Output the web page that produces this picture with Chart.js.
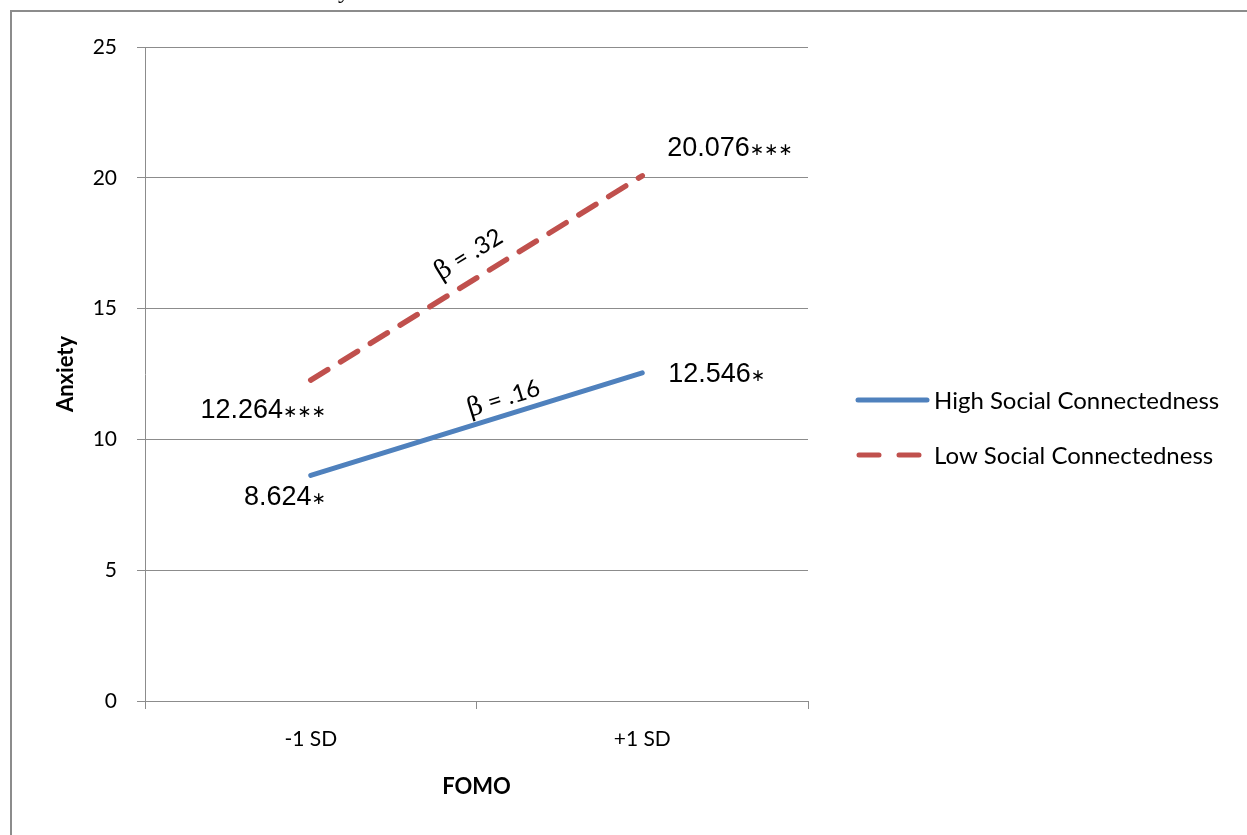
<!DOCTYPE html>
<html>
<head>
<meta charset="utf-8">
<script src="https://cdn.jsdelivr.net/npm/chart.js@4.4.1/dist/chart.umd.min.js"></script>
<style>
html,body{margin:0;padding:0;background:#fff}
#wrap{width:1247px;height:835px;position:relative}
</style>
</head>
<body>
<div id="wrap"><canvas id="chart" width="1247" height="835"></canvas></div>
<script>
const categories=["-1 SD","+1 SD"];
const highSC=[8.624,12.546];
const lowSC=[12.264,20.076];
const highStars=["∗","∗"];
const lowStars=["∗∗∗","∗∗∗"];
const betas=[".16",".32"];
const seriesNames=["High Social Connectedness","Low Social Connectedness"];
const blue="#4F81BD", red="#C0504D", grid="#8c8c8c";
const sans="Lato, 'Open Sans', sans-serif";

// point labels, betas, legend, frame
const extras={
  id:"extras",
  beforeDraw(c){
    const ctx=c.ctx;
    ctx.save();
    ctx.strokeStyle=grid;ctx.lineWidth=2;
    ctx.beginPath();ctx.moveTo(11,835);ctx.lineTo(11,11);ctx.lineTo(1247,11);ctx.stroke();
    ctx.fillStyle="#000";ctx.font="24px 'Liberation Serif', serif";ctx.textBaseline="alphabetic";
    ctx.fillText("y",338,-2);
    ctx.restore();
  },
  afterDatasetsDraw(c){
    const ctx=c.ctx, x=c.scales.x, y=c.scales.y;
    const label=(txt,stars,px,py,align)=>{
      ctx.font="27px 'Liberation Sans', Arial, sans-serif";
      const w1=ctx.measureText(txt).width;
      ctx.font="17px 'DejaVu Sans', sans-serif";
      const w2=ctx.measureText(stars).width;
      let left=align==="right"?px-w1-w2:px;
      ctx.textAlign="left";ctx.textBaseline="middle";
      ctx.font="27px 'Liberation Sans', Arial, sans-serif";
      ctx.fillText(txt,left,py);
      ctx.font="17px 'DejaVu Sans', sans-serif";
      ctx.fillText(stars,left+w1,py+2);
    };
    ctx.save();ctx.fillStyle="#000";
    const x0=x.getPixelForValue(0), x1=x.getPixelForValue(1);
    label(lowSC[0].toFixed(3),lowStars[0],x0+15,y.getPixelForValue(lowSC[0])+30,"right");
    label(highSC[0].toFixed(3),highStars[0],x0+15,y.getPixelForValue(highSC[0])+22,"right");
    label(highSC[1].toFixed(3),highStars[1],x1+26,y.getPixelForValue(highSC[1])+2,"left");
    label(lowSC[1].toFixed(3),lowStars[1],x1+25,y.getPixelForValue(lowSC[1])-27,"left");
    // beta labels along the lines
    const beta=(vals,txt,dx,dy)=>{
      const ax=x0, ay=y.getPixelForValue(vals[0]), bx=x1, by=y.getPixelForValue(vals[1]);
      const ang=Math.atan2(by-ay,bx-ax);
      ctx.save();
      ctx.translate((ax+bx)/2+dx,(ay+by)/2+dy);
      ctx.rotate(ang);
      ctx.textBaseline="alphabetic";ctx.textAlign="left";
      ctx.font="26px 'DejaVu Serif', serif";
      const wb=ctx.measureText("β").width;
      ctx.font="24px "+sans;
      const wr=ctx.measureText(" = "+txt).width;
      const st=-(wb+wr)/2;
      ctx.font="26px 'DejaVu Serif', serif";
      ctx.fillText("β",st,8);
      ctx.font="24px "+sans;
      ctx.fillText(" = "+txt,st+wb,8);
      ctx.restore();
    };
    beta(lowSC,betas[1],-8,-24);
    beta(highSC,betas[0],27,-26);
    // legend
    ctx.lineWidth=5;ctx.lineCap="round";
    ctx.strokeStyle=blue;ctx.setLineDash([]);
    ctx.beginPath();ctx.moveTo(858,400);ctx.lineTo(927,400);ctx.stroke();
    ctx.strokeStyle=red;ctx.lineWidth=5;
    ctx.beginPath();ctx.moveTo(859,455);ctx.lineTo(879,455);ctx.moveTo(899,455);ctx.lineTo(919,455);ctx.stroke();
    ctx.fillStyle="#000";ctx.font="24px "+sans;ctx.textBaseline="middle";ctx.textAlign="left";
    ctx.fillText(seriesNames[0],934,401);
    ctx.fillText(seriesNames[1],934,456);
    ctx.restore();
  }
};

new Chart(document.getElementById("chart"),{
  type:"line",
  data:{labels:categories,datasets:[
    {label:seriesNames[0],data:highSC,borderColor:blue,borderWidth:5,pointRadius:0,tension:0,borderCapStyle:"round"},
    {label:seriesNames[1],data:lowSC,borderColor:red,borderWidth:5.5,pointRadius:0,tension:0,borderDash:[20,15],borderCapStyle:"round"}
  ]},
  options:{
    responsive:false,animation:false,
    layout:{padding:{top:47,right:439,left:0,bottom:0}},
    plugins:{legend:{display:false},tooltip:{enabled:false}},
    scales:{
      x:{offset:true,
        grid:{offset:true,drawOnChartArea:false,color:grid,tickLength:8},
        border:{color:grid},
        ticks:{color:"#000",font:{family:sans,size:21},padding:18},
        title:{display:true,text:"FOMO",color:"#000",font:{family:sans,size:22,weight:"bold"},padding:{top:0,bottom:35}},
        afterFit(s){s.height=134}
      },
      y:{min:0,max:25,
        ticks:{stepSize:5,color:"#000",font:{family:sans,size:21},padding:20},
        grid:{color:grid,tickLength:8},
        border:{color:grid},
        title:{display:true,text:"Anxiety",color:"#000",font:{family:sans,size:22,weight:"bold"},padding:{top:53,bottom:0}},
        afterFit(s){s.width=145}
      }
    }
  },
  plugins:[extras]
});
</script>
</body>
</html>
